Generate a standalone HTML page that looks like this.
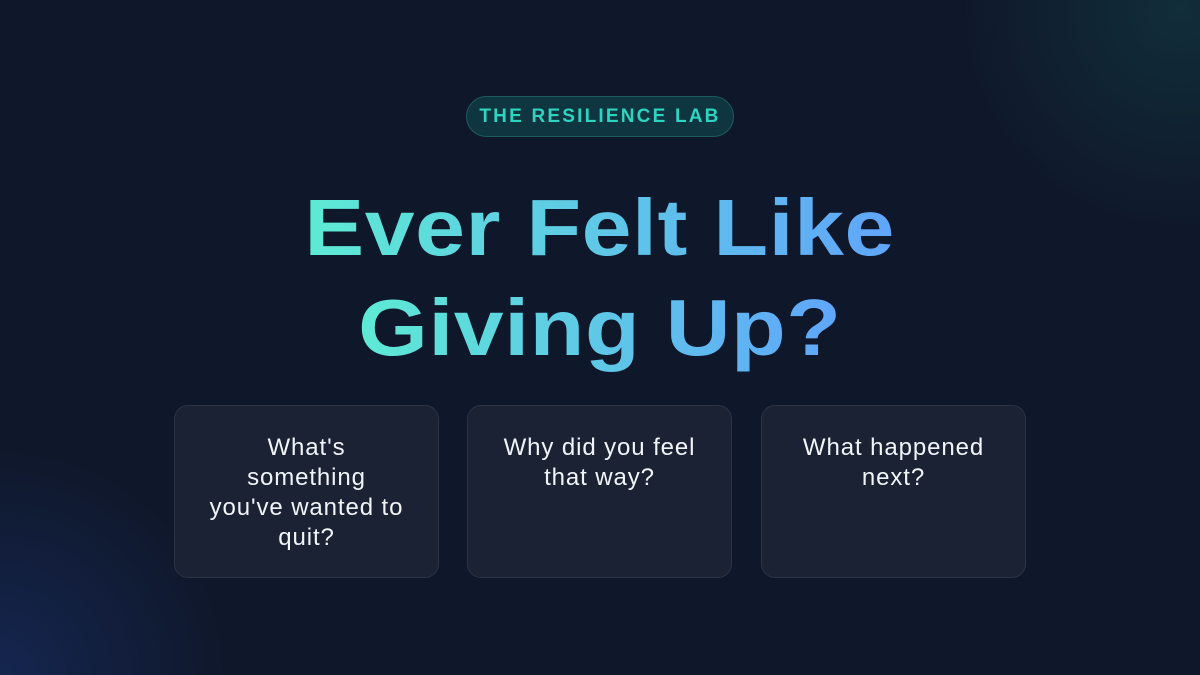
<!DOCTYPE html>
<html><head><meta charset="utf-8"><style>
html,body{margin:0;padding:0}
body{width:1200px;height:675px;overflow:hidden;position:relative;font-family:"Liberation Sans",sans-serif;
background:radial-gradient(circle at 1180px 10px,rgba(20,80,80,0.4),rgba(20,80,80,0) 230px),
radial-gradient(circle at 0px 675px,rgba(25,50,110,0.55),rgba(25,50,110,0) 230px),#0f172a;}
.pill{position:absolute;left:466px;top:96px;width:266px;height:39px;border-radius:21px;background:#0f3540;border:1px solid #1d5c5e;
color:#2dd4bf;font-weight:bold;font-size:19px;letter-spacing:2.2px;text-align:center;line-height:39px}
.h{position:absolute;left:0;width:1200px;text-align:center;margin:0}
.h span{display:inline-block;font-size:80px;line-height:100px;font-weight:900;letter-spacing:0.5px;transform:scaleX(1.12);
background:linear-gradient(90deg,#5eead4,#60a5fa);-webkit-background-clip:text;background-clip:text;color:transparent}
.card{position:absolute;top:405px;width:263px;height:171px;border-radius:14px;background:#1b2234;border:1px solid #2b3345;
color:#f1f5f9;font-size:24px;line-height:30px;letter-spacing:0.9px;text-align:center}
.card div{margin:27px 10px 0}
</style></head><body>
<div class="pill">THE RESILIENCE LAB</div>
<div class="h" style="top:178px"><span>Ever Felt Like</span></div>
<div class="h" style="top:278px"><span>Giving Up?</span></div>
<div class="card" style="left:174px"><div>What's<br>something<br>you've wanted to<br>quit?</div></div>
<div class="card" style="left:467px"><div>Why did you feel<br>that way?</div></div>
<div class="card" style="left:761px"><div>What happened<br>next?</div></div>
</body></html>
